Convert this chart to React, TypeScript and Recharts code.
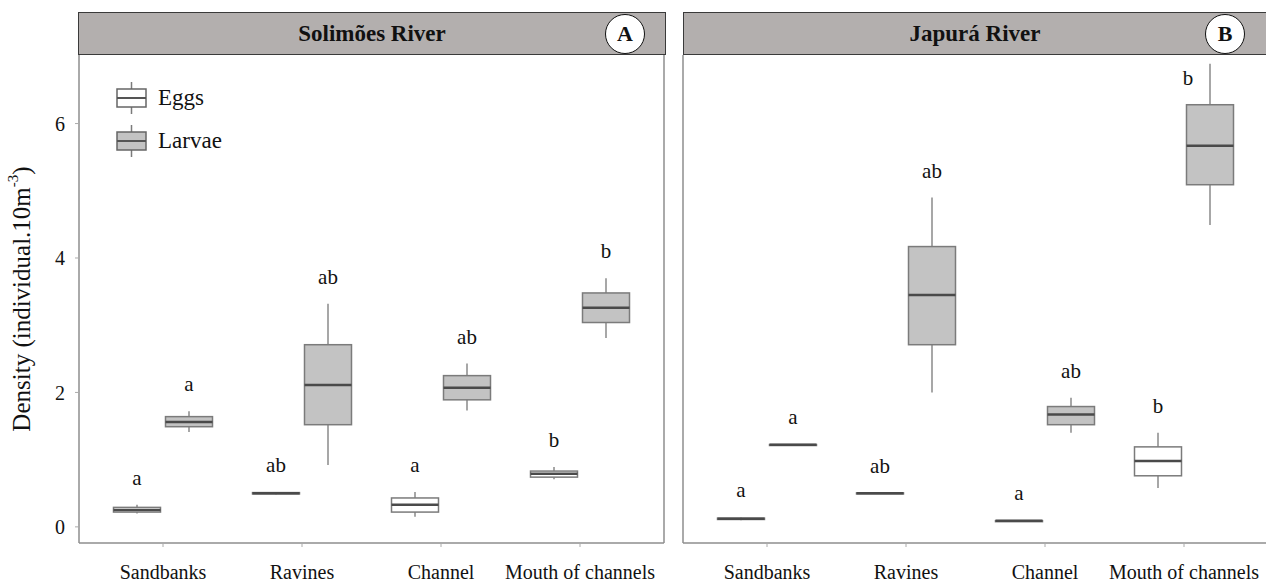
import { ComposedChart, Bar, XAxis, YAxis, Legend } from 'recharts';

const SERIF = '"Liberation Serif", "Times New Roman", serif';

const categories = ['Sandbanks', 'Ravines', 'Channel', 'Mouth of channels'];

// each box: [min, q1, median, q3, max]
const solimoesEggs = [
  [0.2, 0.22, 0.25, 0.29, 0.33],
  [0.48, 0.49, 0.5, 0.51, 0.52],
  [0.15, 0.22, 0.33, 0.43, 0.52],
  [0.71, 0.74, 0.79, 0.83, 0.89],
];
const solimoesLarvae = [
  [1.41, 1.49, 1.56, 1.64, 1.72],
  [0.92, 1.52, 2.11, 2.71, 3.32],
  [1.73, 1.89, 2.07, 2.25, 2.43],
  [2.81, 3.04, 3.26, 3.48, 3.7],
];
const japuraEggs = [
  [0.1, 0.11, 0.12, 0.13, 0.14],
  [0.49, 0.495, 0.5, 0.505, 0.51],
  [0.085, 0.088, 0.09, 0.092, 0.095],
  [0.58, 0.76, 0.98, 1.19, 1.4],
];
const japuraLarvae = [
  [1.21, 1.215, 1.22, 1.225, 1.23],
  [2.0, 2.71, 3.45, 4.17, 4.9],
  [1.4, 1.52, 1.67, 1.79, 1.92],
  [4.49, 5.09, 5.67, 6.28, 6.89],
];

// Tukey letters above each box
const solimoesEggsLetters = ['a', 'ab', 'a', 'b'];
const solimoesLarvaeLetters = ['a', 'ab', 'ab', 'b'];
const japuraEggsLetters = ['a', 'ab', 'a', 'b'];
const japuraLarvaeLetters = ['a', 'ab', 'ab', 'b'];

const yTicks = [0, 2, 4, 6];
const yDomain = [-0.24, 7.02];

const PLOT_TOP = 55;
const EGGS_FILL = '#ffffff';
const LARVAE_FILL = '#c3c3c3';
const BOX_STROKE = '#7b7b7b';
const AXIS_STROKE = '#8e8e8e';

const buildRows = (eggs: number[][], larvae: number[][], eggsLetters: string[], larvaeLetters: string[]) =>
  categories.map((category, i) => ({
    category,
    eggs: [eggs[i][0], eggs[i][4]],
    eggsStats: eggs[i],
    eggsLetter: eggsLetters[i],
    larvae: [larvae[i][0], larvae[i][4]],
    larvaeStats: larvae[i],
    larvaeLetter: larvaeLetters[i],
  }));

const solimoesRows = buildRows(solimoesEggs, solimoesLarvae, solimoesEggsLetters, solimoesLarvaeLetters);
const japuraRows = buildRows(japuraEggs, japuraLarvae, japuraEggsLetters, japuraLarvaeLetters);

// draws one box plot inside the [min, max] range bar that recharts lays out
const makeBoxShape = (key: string) => (props: any) => {
  const { x, y, width, height, payload, fill } = props;
  const [min, q1, med, q3, max] = payload[key + 'Stats'];
  const top = Math.min(y, y + height);
  const h = Math.abs(height);
  const k = max > min ? h / (max - min) : 0;
  const py = (v: number) => top + (max - v) * k;
  const cx = x + width / 2;

  // letter goes above the whisker, or beside it when there is no room
  let lx = cx;
  let ly = top - 27;
  if (ly < PLOT_TOP + 12) {
    lx = cx - 22;
    ly = top + 14;
  }

  return (
    <g>
      <line x1={cx} x2={cx} y1={py(max)} y2={py(q3)} stroke="#8a8a8a" strokeWidth={1.5} />
      <line x1={cx} x2={cx} y1={py(q1)} y2={py(min)} stroke="#8a8a8a" strokeWidth={1.5} />
      <rect x={x} y={py(q3)} width={width} height={Math.max(py(q1) - py(q3), 1)} fill={fill} stroke={BOX_STROKE} strokeWidth={1.5} />
      <line x1={x} x2={x + width} y1={py(med)} y2={py(med)} stroke="#4a4a4a" strokeWidth={2.5} />
      <text x={lx} y={ly} textAnchor="middle" dominantBaseline="central" fontFamily={SERIF} fontSize={21} fill="#111">
        {payload[key + 'Letter']}
      </text>
    </g>
  );
};

const eggsShape = makeBoxShape('eggs');
const larvaeShape = makeBoxShape('larvae');

const LegendGlyph = ({ fill }: { fill: string }) => (
  <svg width={33} height={34}>
    <line x1={16.5} x2={16.5} y1={1} y2={33} stroke={BOX_STROKE} strokeWidth={1.5} />
    <rect x={2} y={8} width={29} height={18} fill={fill} stroke="#666" strokeWidth={1.5} />
    <line x1={2} x2={31} y1={17} y2={17} stroke="#555" strokeWidth={2} />
  </svg>
);

const renderLegend = (props: any) => {
  const { payload } = props;
  return (
    <div>
      {(payload || []).map((entry: any) => (
        <div key={entry.value} style={{ display: 'flex', alignItems: 'center', height: 43 }}>
          <LegendGlyph fill={entry.color} />
          <span style={{ marginLeft: 10, fontSize: 23, fontFamily: SERIF, color: '#111' }}>{entry.value}</span>
        </div>
      ))}
    </div>
  );
};

const renderYLabel = (props: any) => {
  const { viewBox } = props;
  const cy = viewBox.y + viewBox.height / 2;
  const cx = 21;
  return (
    <text x={cx} y={cy} transform={`rotate(-90, ${cx}, ${cy})`} textAnchor="middle" dominantBaseline="central" fontFamily={SERIF} fontSize={25} fill="#111">
      Density (individual.10m
      <tspan baselineShift="super" fontSize={15}>-3</tspan>
      )
    </text>
  );
};

interface PanelProps {
  data: any[];
  width: number;
  margin: { top: number; right: number; bottom: number; left: number };
  yAxisWidth: number;
  showYLabels: boolean;
  showLegend: boolean;
  rightFrame: boolean;
}

const Panel = ({ data, width, margin, yAxisWidth, showYLabels, showLegend, rightFrame }: PanelProps) => (
  <ComposedChart width={width} height={583} data={data} margin={margin} barSize={47} barGap={5}>
    <XAxis
      dataKey="category"
      padding={{ left: 14.5, right: 14.5 }}
      height={30}
      tickSize={4}
      tickMargin={18}
      axisLine={{ stroke: AXIS_STROKE, strokeWidth: 1.5 }}
      tickLine={{ stroke: '#aaa' }}
      tick={{ fontFamily: SERIF, fontSize: 20, fill: '#111' }}
      interval={0}
    />
    <YAxis
      type="number"
      domain={yDomain}
      ticks={yTicks}
      allowDataOverflow
      width={yAxisWidth}
      tickSize={4}
      tickMargin={10}
      axisLine={{ stroke: AXIS_STROKE, strokeWidth: 1.5 }}
      tickLine={{ stroke: '#aaa' }}
      tick={showYLabels ? { fontFamily: SERIF, fontSize: 20, fill: '#111' } : false}
      label={showYLabels ? renderYLabel : undefined}
    />
    {rightFrame && (
      <YAxis
        yAxisId="frame"
        orientation="right"
        type="number"
        domain={yDomain}
        width={1}
        tick={false}
        tickLine={false}
        axisLine={{ stroke: AXIS_STROKE, strokeWidth: 1.5 }}
      />
    )}
    {showLegend && (
      <Legend
        layout="vertical"
        align="center"
        verticalAlign="middle"
        content={renderLegend}
        wrapperStyle={{ left: 115, top: 76, width: 'auto', height: 'auto' }}
      />
    )}
    <Bar dataKey="eggs" name="Eggs" fill={EGGS_FILL} shape={eggsShape} isAnimationActive={false} />
    <Bar dataKey="larvae" name="Larvae" fill={LARVAE_FILL} shape={larvaeShape} isAnimationActive={false} />
  </ComposedChart>
);

const Header = ({ left, width, title, badge, badgeX, rightBorder }: any) => (
  <div
    style={{
      position: 'absolute',
      left,
      top: 12,
      width,
      height: 43,
      boxSizing: 'border-box',
      background: '#b3afae',
      border: '1.5px solid #3a3a3a',
      borderRight: rightBorder ? '1.5px solid #3a3a3a' : 'none',
      display: 'flex',
      alignItems: 'center',
      justifyContent: 'center',
      fontFamily: SERIF,
      fontWeight: 'bold',
      fontSize: 23,
      color: '#111',
    }}
  >
    {title}
    <div
      style={{
        position: 'absolute',
        left: badgeX - 20,
        top: 1,
        width: 40,
        height: 40,
        boxSizing: 'border-box',
        borderRadius: '50%',
        border: '1.5px solid #111',
        background: '#fff',
        display: 'flex',
        alignItems: 'center',
        justifyContent: 'center',
        fontSize: 22,
      }}
    >
      {badge}
    </div>
  </div>
);

export default function App() {
  return (
    <div style={{ position: 'absolute', left: 0, top: 0, width: 1266, height: 583, overflow: 'hidden', background: '#fff' }}>
      <div style={{ position: 'absolute', left: 0, top: 0 }}>
        <Panel
          data={solimoesRows}
          width={672}
          margin={{ top: PLOT_TOP, right: 7, bottom: 10, left: 39 }}
          yAxisWidth={40}
          showYLabels
          showLegend
          rightFrame
        />
      </div>
      <div style={{ position: 'absolute', left: 672, top: 0 }}>
        <Panel
          data={japuraRows}
          width={600}
          margin={{ top: PLOT_TOP, right: 4, bottom: 10, left: 6 }}
          yAxisWidth={5}
          showYLabels={false}
          showLegend={false}
          rightFrame={false}
        />
      </div>
      <Header left={78} width={588} title="Solimões River" badge="A" badgeX={546} rightBorder />
      <Header left={683} width={583} title="Japurá River" badge="B" badgeX={541} rightBorder={false} />
    </div>
  );
}
